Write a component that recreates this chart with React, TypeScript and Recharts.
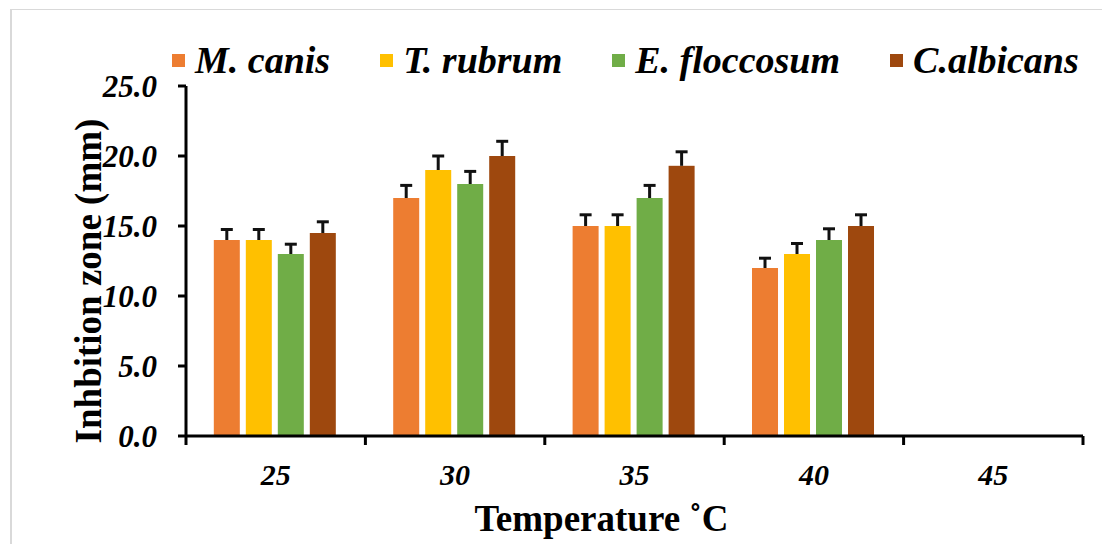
import React from "react"
import { Bar, BarChart, Legend, XAxis, YAxis } from "recharts"

const temps = ["25", "30", "35", "40", "45"]
const mCanis = [14, 17, 15, 12, 0]
const tRubrum = [14, 19, 15, 13, 0]
const eFloccosum = [13, 18, 17, 14, 0]
const cAlbicans = [14.5, 20, 19.3, 15, 0]
const mCanisErr = [0.75, 0.9, 0.8, 0.7, 0]
const tRubrumErr = [0.75, 1.0, 0.8, 0.75, 0]
const eFloccosumErr = [0.7, 0.9, 0.9, 0.8, 0]
const cAlbicansErr = [0.8, 1.05, 1.0, 0.8, 0]
const yTicks = [0, 5, 10, 15, 20, 25]

const series = [
  { key: "mCanis", name: "M. canis", color: "#ED7D31", values: mCanis, errs: mCanisErr },
  { key: "tRubrum", name: "T. rubrum", color: "#FFC000", values: tRubrum, errs: tRubrumErr },
  { key: "eFloccosum", name: "E. floccosum", color: "#70AD47", values: eFloccosum, errs: eFloccosumErr },
  { key: "cAlbicans", name: "C.albicans", color: "#9E480E", values: cAlbicans, errs: cAlbicansErr },
]

const data = temps.map((t, i) => {
  const row: any = { temp: t }
  series.forEach((s) => {
    row[s.key] = s.values[i]
    row[s.key + "Err"] = s.errs[i]
  })
  return row
})

const FONT = "'Liberation Serif', 'Times New Roman', serif"

function makeShape(errKey: string) {
  return (props: any) => {
    const { x, y, width, height, fill, payload, value } = props
    const v = Array.isArray(value) ? value[1] - value[0] : value
    if (!height || height <= 0 || !v) return <g />
    const err = payload[errKey] || 0
    const errPx = (err * height) / v
    const cx = x + width / 2
    return (
      <g>
        <rect x={x} y={y} width={width} height={height} fill={fill} />
        {err > 0 && (
          <g stroke="#111" strokeWidth={3}>
            <line x1={cx} x2={cx} y1={y} y2={y - errPx} />
            <line x1={cx - 6} x2={cx + 6} y1={y - errPx} y2={y - errPx} />
          </g>
        )}
      </g>
    )
  }
}

// category label at the centre, tick marks at the band edges
function TempTick(props: any) {
  const { x, y, payload, index, visibleTicksCount } = props
  const half = payload.offset || 0
  const axisY = y - 26
  const last = index === (visibleTicksCount ?? temps.length) - 1
  return (
    <g>
      <line x1={x - half} x2={x - half} y1={axisY} y2={axisY + 9} stroke="#000" strokeWidth={3} />
      {last && <line x1={x + half} x2={x + half} y1={axisY} y2={axisY + 9} stroke="#000" strokeWidth={3} />}
      <text
        x={x}
        y={y}
        dy="0.75em"
        textAnchor="middle"
        fontFamily={FONT}
        fontWeight="bold"
        fontStyle="italic"
        fontSize={30}
        fill="#000"
      >
        {payload.value}
      </text>
    </g>
  )
}

function YTitle(props: any) {
  const { x, y, height } = props.viewBox
  const cx = x + 22
  const cy = y + height / 2 + 20
  return (
    <text
      x={cx}
      y={cy}
      transform={`rotate(-90 ${cx} ${cy})`}
      textAnchor="middle"
      dominantBaseline="central"
      fontFamily={FONT}
      fontWeight="bold"
      fontSize={37}
      fill="#000"
    >
      Inhbition zone (mm)
    </text>
  )
}

function XTitle(props: any) {
  const { x, y, width, height } = props.viewBox
  return (
    <text
      x={x + width / 2 - 33}
      y={y + height - 13}
      textAnchor="middle"
      fontFamily={FONT}
      fontWeight="bold"
      fontSize={37}
      fill="#000"
    >
      Temperature ˚C
    </text>
  )
}

function LegendContent() {
  return (
    <div style={{ display: "flex", alignItems: "center", whiteSpace: "nowrap" }}>
      {series.map((s) => (
        <div key={s.key} style={{ display: "flex", alignItems: "center", marginRight: 50 }}>
          <span style={{ width: 13, height: 13, background: s.color, display: "inline-block", marginRight: 10 }} />
          <span
            style={{
              fontFamily: FONT,
              fontWeight: "bold",
              fontStyle: "italic",
              fontSize: 38,
              color: "#000",
              lineHeight: "40px",
            }}
          >
            {s.name}
          </span>
        </div>
      ))}
    </div>
  )
}

export default function App() {
  return (
    <div style={{ position: "absolute", left: 0, top: 0, width: 1102, height: 544, background: "#fff" }}>
      <div
        style={{
          position: "absolute",
          left: 10,
          top: 9,
          width: 1092,
          height: 535,
          borderLeft: "2px solid #d9d9d9",
          borderTop: "1px solid #d9d9d9",
          boxSizing: "border-box",
        }}
      />
      <BarChart
        width={1102}
        height={544}
        data={data}
        margin={{ top: 86, right: 19, left: 66, bottom: 0 }}
        barCategoryGap="15.5%"
        barGap={6}
        style={{ position: "absolute", left: 0, top: 0 }}
      >
        <XAxis
          dataKey="temp"
          tickLine={false}
          axisLine={{ stroke: "#000", strokeWidth: 3 }}
          tickSize={6}
          tickMargin={20}
          height={108}
          tick={<TempTick />}
          label={<XTitle />}
        />
        <YAxis
          domain={[0, 25]}
          ticks={yTicks}
          width={120}
          tickFormatter={(v: number) => v.toFixed(1)}
          axisLine={{ stroke: "#000", strokeWidth: 3 }}
          tickLine={{ stroke: "#000", strokeWidth: 3 }}
          tickSize={8}
          tickMargin={21}
          tick={{ fontFamily: FONT, fontWeight: "bold", fontStyle: "italic", fontSize: 31, fill: "#000" }}
          label={<YTitle />}
        />
        <Legend
          verticalAlign="middle"
          align="center"
          content={<LegendContent />}
          wrapperStyle={{ position: "absolute", left: 172, top: 40, width: "auto" }}
        />
        {series.map((s) => (
          <Bar
            key={s.key}
            dataKey={s.key}
            name={s.name}
            fill={s.color}
            isAnimationActive={false}
            shape={makeShape(s.key + "Err")}
          />
        ))}
      </BarChart>
    </div>
  )
}
